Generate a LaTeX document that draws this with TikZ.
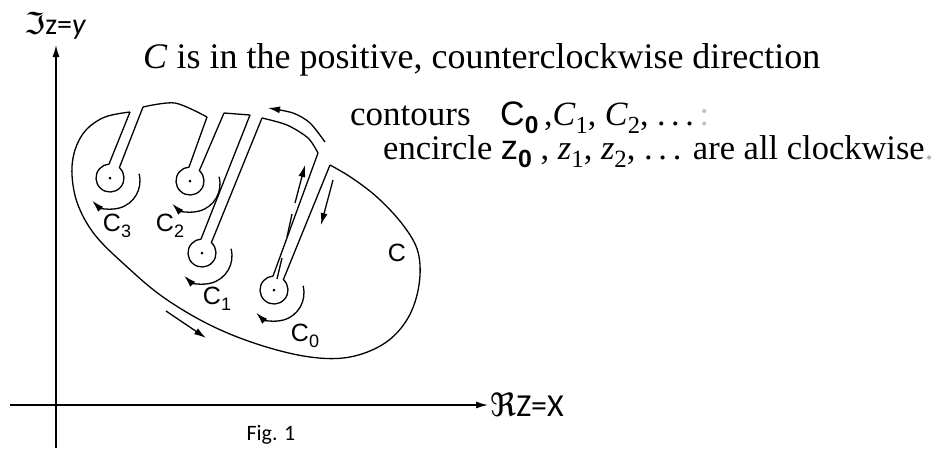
\documentclass[tikz,border=0pt]{standalone}
\usepackage{fontspec}
\setmainfont{Liberation Serif}
\newfontfamily\lsans{Liberation Sans}
\newfontfamily\dsans{DejaVu Sans}
\newfontfamily\carl{Carlito}
\usetikzlibrary{arrows.meta}
\newcommand\lowsub[1]{\raisebox{-0.25em}{\scalebox{0.72}{#1}}}
\tikzset{
  ln/.style={line width=1.3pt},
  arr/.style={line width=1.3pt,-{Latex[length=12pt,width=7pt]}},
  lbl/.style={font=\lsans\fontsize{25}{25}\selectfont, inner sep=0pt},
  txt/.style={font=\fontsize{36}{36}\selectfont, inner sep=0pt, anchor=base west},
  dotc/.style={fill, circle, inner sep=0pt, minimum size=3pt}
}
\begin{document}
\begin{tikzpicture}[x=1pt,y=-1pt]
\useasboundingbox (0,0) rectangle (935,448);
% axes
\coordinate (yb) at (56,448); \coordinate (yt) at (56,45);
\coordinate (xl) at (10,405); \coordinate (xr) at (488,405);
\draw[arr] (yb) -- (yt);
\draw[arr] (xl) -- (xr);
\node[anchor=west, inner sep=0pt, font=\fontsize{32}{32}\selectfont] (xlab) at (490,405) {{\dsans ℜ}{\carl Z=X}};
\node[inner sep=0pt, font=\fontsize{30}{30}\selectfont] (ylab) at (55,26) {{\dsans ℑ}{\carl z=\itshape y}};
\node[inner sep=0pt, font=\carl\fontsize{22}{22}\selectfont] (fig) at (271,435) {Fig. 1};
% centres
\coordinate (c3) at (110,178); \coordinate (c2) at (190,181);
\coordinate (c1) at (202,253); \coordinate (c0) at (274,290);
% slit tops
\coordinate (s3l) at (130,112); \coordinate (s3r) at (143,107);
\coordinate (s2l) at (207,117); \coordinate (s2r) at (224,113);
\coordinate (s1l) at (250,115); \coordinate (s1r) at (262,118);
\coordinate (s0l) at (318,153); \coordinate (s0r) at (330,165);
% outer big piece
\draw[ln] plot[smooth, tension=0.6] coordinates {(130,112) (105,117) (86,130) (75,150) (72,175) (78,205) (95,235) (125,265) (163,297) (210,325) (260,345) (310,357) (350,357) (385,343) (408,318) (419,285) (418,252) (403,225) (378,198) (352,178) (330,165)};
% top pieces
\draw[ln] plot[smooth] coordinates {(143,107) (175,103) (207,117)};
\draw[ln] (s2r) -- (s1l);
\draw[ln] plot[smooth] coordinates {(262,118) (287,125) (308,138) (318,153)};
% keyholes
\foreach \c/\l/\r in {c3/s3l/s3r, c2/s2l/s2r, c1/s1l/s1r, c0/s0l/s0r}{
  \draw[ln] (\r) -- ([shift={(-48:14)}]\c) arc[start angle=-48, end angle=266, radius=14] -- (\l);
  \node[dotc] at (\c) {};
  \draw[arr] ([shift={(2,3)}]\c) ++(-15:28) arc[start angle=-15, end angle=135, radius=28];
}
% labels
\node[lbl] (l3) at (117,226) {C\lowsub{3}};
\node[lbl] (l2) at (170,226) {C\lowsub{2}};
\node[lbl] (l1) at (217,299) {C\lowsub{1}};
\node[lbl] (l0) at (305,336) {C\lowsub{0}};
\node[lbl] (lc) at (397,253) {C};
% direction arrows
\draw[arr] plot[smooth] coordinates {(325,142) (310,123) (293,113) (268,108)};
\coordinate (u0) at (277,279); \coordinate (u1) at (282,258);
\coordinate (u2) at (287,237); \coordinate (u3) at (292,214);
\coordinate (u4) at (295,203); \coordinate (u5) at (305,165);
\draw[ln] (u0) -- (u1);
\draw[ln] (u2) -- (u3);
\draw[arr] (u4) -- (u5);
\coordinate (d0) at (333,180); \coordinate (d1) at (321,225);
\draw[arr] (d0) -- (d1);
\coordinate (b0) at (166,311); \coordinate (b1) at (206,338);
\draw[arr] (b0) -- (b1);
% texts
\node[txt] (t1) at (143,68) {\textit{C} is in the positive, counterclockwise direction};
\node[txt, font=\fontsize{35}{35}\selectfont] (t2) at (350,125) {contours};
\node[txt, font=\fontsize{34}{34}\selectfont] (t3) at (500,125) {{\lsans C\lowsub{\bfseries 0}}\,,\textit{C}\lowsub{1}, \textit{C}\lowsub{2}, .\,.\,.\,{\color{gray!50}:}};
\node[txt, font=\fontsize{34.5}{34.5}\selectfont] (t4) at (383,159) {encircle {\lsans z\lowsub{\bfseries 0}} , \textit{z}\lowsub{1}, \textit{z}\lowsub{2}, .\,.\,. are all clockwise{\color{gray!60}.}};
\end{tikzpicture}
\end{document}
